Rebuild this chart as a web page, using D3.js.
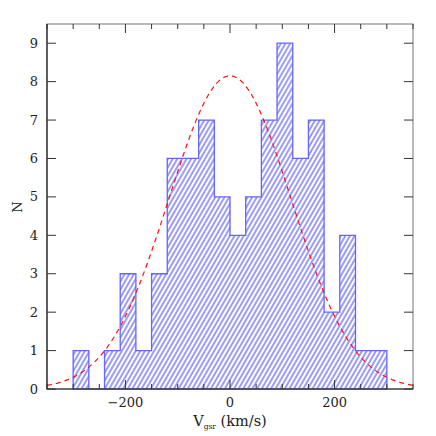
<!DOCTYPE html>
<html>
<head>
<meta charset="utf-8">
<script src="https://cdn.jsdelivr.net/npm/d3@7"></script>
<style>
body { margin: 0; background: #fff; }
text { font-family: "DejaVu Serif", "Liberation Serif", serif; fill: #222; }
</style>
</head>
<body>
<script>
const binEdges = [-300, -270, -240, -210, -180, -150, -120, -90, -60, -30, 0, 30, 60, 90, 120, 150, 180, 210, 240, 270, 300];
const counts = [1, 0, 1, 3, 1, 3, 6, 6, 7, 5, 4, 5, 7, 9, 6, 7, 2, 4, 1, 1];
const xTicks = [-200, 0, 200];
const yTicks = [0, 1, 2, 3, 4, 5, 6, 7, 8, 9];
// gaussian fit drawn over the histogram
const fitMean = 0;
const fitSigma = 117;
const fitPeak = 8.15;

const width = 436, height = 436;
const plotL = 47, plotR = 413, plotT = 24, plotB = 389;

const x = d3.scaleLinear().domain([-350, 350]).range([plotL, plotR]);
const y = d3.scaleLinear().domain([0, 9.5]).range([plotB, plotT]);

const svg = d3.select("body").append("svg")
  .attr("width", width)
  .attr("height", height);

const pat = svg.append("defs").append("pattern")
  .attr("id", "hatch")
  .attr("patternUnits", "userSpaceOnUse")
  .attr("width", 4)
  .attr("height", 10)
  .attr("patternTransform", "rotate(30)");
pat.append("line")
  .attr("x1", 1).attr("x2", 1).attr("y1", -1).attr("y2", 11)
  .attr("stroke", "#3a3af2").attr("stroke-width", 1);

// step data: each edge with the count that starts there
const steps = binEdges.map((e, i) => [e, i < counts.length ? counts[i] : counts[counts.length - 1]]);

const area = d3.area()
  .x(d => x(d[0]))
  .y0(y(0))
  .y1(d => y(d[1]))
  .curve(d3.curveStepAfter);

svg.append("path")
  .datum(steps)
  .attr("d", area)
  .attr("fill", "url(#hatch)")
  .attr("stroke", "#6464ff")
  .attr("stroke-width", 1.3);

// fit curve
const fitPts = d3.range(-350, 351, 5).map(v => [v, fitPeak * Math.exp(-((v - fitMean) ** 2) / (2 * fitSigma * fitSigma))]);
svg.append("path")
  .datum(fitPts)
  .attr("d", d3.line().x(d => x(d[0])).y(d => y(d[1])))
  .attr("fill", "none")
  .attr("stroke", "#ff1010")
  .attr("stroke-width", 1.2)
  .attr("stroke-dasharray", "5,4");

// frame
svg.append("rect")
  .attr("x", plotL).attr("y", plotT)
  .attr("width", plotR - plotL).attr("height", plotB - plotT)
  .attr("fill", "none").attr("stroke", "#777").attr("stroke-width", 1);
svg.append("path")
  .attr("d", `M${plotL},${plotT}V${plotB}H${plotR}`)
  .attr("fill", "none").attr("stroke", "#222").attr("stroke-width", 1.2);

// ticks
const g = svg.append("g").attr("stroke", "#333").attr("stroke-width", 1);
const minorX = d3.range(-350, 351, 50).filter(v => v % 200 !== 0);
minorX.forEach(v => {
  g.append("line").attr("x1", x(v)).attr("x2", x(v)).attr("y1", plotB).attr("y2", plotB - 5);
  g.append("line").attr("x1", x(v)).attr("x2", x(v)).attr("y1", plotT).attr("y2", plotT + 5);
});
xTicks.forEach(v => {
  g.append("line").attr("x1", x(v)).attr("x2", x(v)).attr("y1", plotB).attr("y2", plotB - 9);
  g.append("line").attr("x1", x(v)).attr("x2", x(v)).attr("y1", plotT).attr("y2", plotT + 9);
});
yTicks.forEach(v => {
  g.append("line").attr("x1", plotL).attr("x2", plotL + 9).attr("y1", y(v)).attr("y2", y(v));
  g.append("line").attr("x1", plotR).attr("x2", plotR - 9).attr("y1", y(v)).attr("y2", y(v));
});

// tick labels
svg.selectAll(".xl").data(xTicks).enter().append("text")
  .attr("x", d => x(d))
  .attr("y", 407)
  .attr("text-anchor", "middle")
  .attr("font-size", 13)
  .text(d => d < 0 ? "\u2212" + Math.abs(d) : d);

svg.selectAll(".yl").data(yTicks).enter().append("text")
  .attr("x", 38)
  .attr("y", d => y(d) + 4.5)
  .attr("text-anchor", "end")
  .attr("font-size", 13)
  .text(d => d);

// axis titles
const xt = svg.append("text")
  .attr("x", 230)
  .attr("y", 426)
  .attr("text-anchor", "middle")
  .attr("font-size", 14.5);
xt.append("tspan").text("V");
xt.append("tspan").attr("font-size", 7.5).attr("dy", 3).text("gsr");
xt.append("tspan").attr("dy", -3).text(" (km/s)");

svg.append("text")
  .attr("transform", "translate(22,207) rotate(-90)")
  .attr("text-anchor", "middle")
  .attr("font-size", 13)
  .text("N");
</script>
</body>
</html>
